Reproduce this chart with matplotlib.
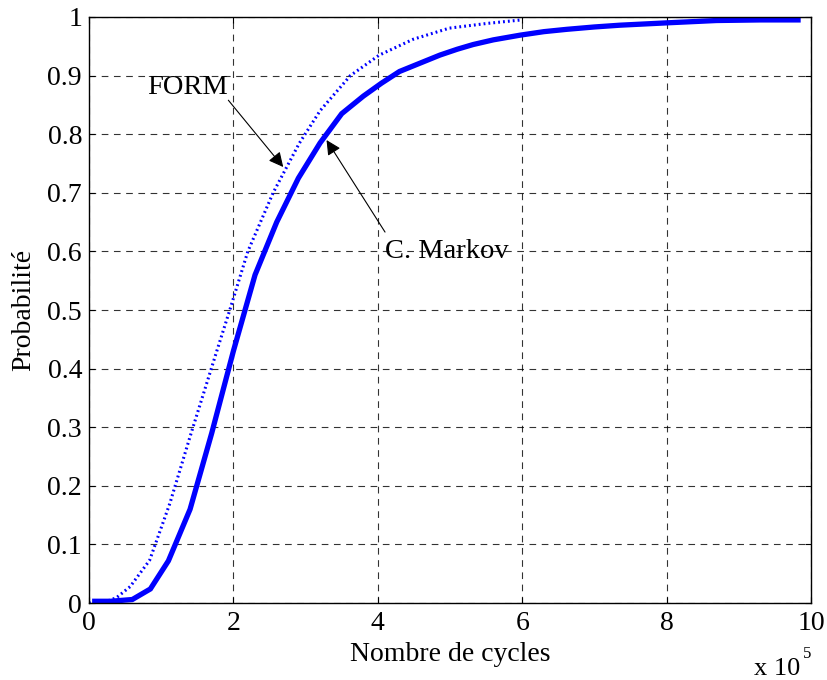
import matplotlib
matplotlib.use('Agg')
import matplotlib.pyplot as plt

#%% données (nombre de cycles en unités de 1e5)
x_markov = [0.08, 0.3, 0.6, 0.85, 1.1, 1.4, 1.7, 2.0, 2.3, 2.6, 2.9, 3.2, 3.5, 3.8,
            4.05, 4.3, 4.6, 4.86, 5.1, 5.32, 5.6, 5.97, 6.3, 6.62, 7.0, 7.35, 8.0,
            8.69, 9.3, 9.82]
y_markov = [0.003, 0.003, 0.006, 0.024, 0.072, 0.16, 0.29, 0.43, 0.56, 0.65, 0.725,
            0.785, 0.835, 0.865, 0.887, 0.907, 0.922, 0.935, 0.945, 0.953, 0.961,
            0.969, 0.975, 0.979, 0.983, 0.986, 0.99, 0.994, 0.995, 0.995]

x_form = [0.0, 0.2, 0.38, 0.57, 0.84, 1.12, 1.4, 1.77, 1.95, 2.2, 2.55, 2.91, 3.2,
          3.62, 4.02, 4.49, 4.99, 5.51, 5.99]
y_form = [0.0, 0.001, 0.009, 0.028, 0.073, 0.17, 0.284, 0.43, 0.5, 0.6, 0.7, 0.784,
          0.84, 0.9, 0.935, 0.962, 0.981, 0.989, 0.995]

xticks = [0, 2, 4, 6, 8, 10]
yticks = [0, 0.1, 0.2, 0.3, 0.4, 0.5, 0.6, 0.7, 0.8, 0.9, 1]
ytick_labels = ['0', '0.1', '0.2', '0.3', '0.4', '0.5', '0.6', '0.7', '0.8', '0.9', '1']

#%% figure
plt.rcParams['font.family'] = ['Liberation Serif', 'DejaVu Serif']
fs = 20

fig = plt.figure(figsize=(8.27, 6.8), dpi=100)
ax = fig.add_axes([0.1076, 0.1132, 0.8731, 0.8618])

ax.plot(x_markov, y_markov, color='blue', lw=3.8, solid_joinstyle='miter')
ax.plot(x_form, y_form, color='blue', lw=2.2, ls=(0, (0.6, 1.0)))

ax.set_xlim(0, 10)
ax.set_ylim(0, 1)
ax.set_xticks(xticks)
ax.set_xticklabels([str(t) for t in xticks])
ax.set_yticks(yticks)
ax.set_yticklabels(ytick_labels)
ax.tick_params(direction='in', top=True, right=True, labelsize=fs, length=4, width=0.8)
ax.tick_params(axis='x', pad=6)
ax.tick_params(axis='y', pad=5)
ax.grid(True, color='black', ls=(0, (6, 5)), lw=0.8, alpha=0.8)
for s in ax.spines.values():
    s.set_linewidth(1.0)

ax.set_xlabel('Nombre de cycles', fontsize=fs, labelpad=4)
ax.set_ylabel('Probabilité', fontsize=fs, labelpad=8)

# facteur d'échelle de l'axe x
fig.text(0.912, 0.008, 'x 10', fontsize=19, ha='left', va='baseline')
fig.text(0.971, 0.032, '5', fontsize=12, ha='left', va='baseline')

# annotations (flèche + texte séparés)
arrow = dict(arrowstyle='-|>', color='black', lw=0.8, mutation_scale=22,
             shrinkA=0, shrinkB=0)
ax.annotate('', xy=(2.69, 0.744), xytext=(1.93, 0.858), arrowprops=arrow)
ax.text(1.93, 0.858, 'FORM', fontsize=20.5, ha='right', va='bottom')
ax.annotate('', xy=(3.29, 0.79), xytext=(4.10, 0.633), arrowprops=arrow)
ax.text(4.10, 0.6, 'C. Markov', fontsize=20.5, ha='left', va='center')

plt.savefig('out.png', dpi=100)
